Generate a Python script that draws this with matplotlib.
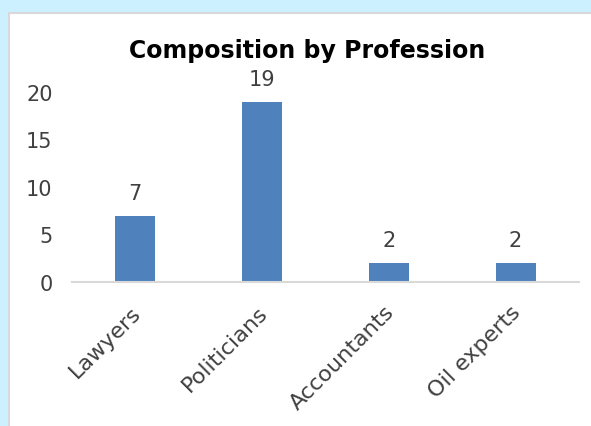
import matplotlib
matplotlib.use("Agg")
import matplotlib.pyplot as plt
from matplotlib.patches import Rectangle
from matplotlib.transforms import ScaledTranslation

categories = ["Lawyers", "Politicians", "Accountants", "Oil experts"]
counts = [7, 19, 2, 2]
yticks = [0, 5, 10, 15, 20]

W, H = 591, 427
fig = plt.figure(figsize=(W / 100, H / 100), dpi=100)
fig.patch.set_facecolor("#CCF0FF")

# white chart panel with thin grey border
panel = Rectangle((9 / W, -0.1), 1.2, 1.1 - 14 / H, transform=fig.transFigure,
                  facecolor="white", edgecolor="#D9D9D9", linewidth=1.5, zorder=-1)
fig.patches.append(panel)

font = "DejaVu Sans"
ax = fig.add_axes([72 / W, 1 - 283 / H, (579 - 72) / W, (283 - 93) / H])
ax.set_facecolor("none")

x = list(range(len(categories)))
ax.bar(x, counts, width=0.316, color="#4F81BD", zorder=2)
for xi, v in zip(x, counts):
    ax.annotate(str(v), (xi, v), xytext=(0, 9), textcoords="offset points",
                ha="center", va="bottom", fontsize=15, color="#404040", family=font)

ax.set_xlim(-0.5, len(categories) - 0.5)
ax.set_ylim(0, 20)
ax.set_yticks(yticks)
ax.set_yticklabels([str(t) for t in yticks], fontsize=15, color="#404040", family=font)
ax.set_xticks(x)
ax.set_xticklabels(categories, rotation=45, ha="right", va="top", rotation_mode="anchor",
                   fontsize=16, color="#404040", family=font)
ax.tick_params(axis="both", length=0)
ax.tick_params(axis="y", pad=14)
ax.tick_params(axis="x", pad=14)
shift = ScaledTranslation(-5 / 100, 0, fig.dpi_scale_trans)
for lab in ax.get_xticklabels():
    lab.set_transform(lab.get_transform() + shift)
for s in ["top", "right", "left"]:
    ax.spines[s].set_visible(False)
ax.spines["bottom"].set_color("#D9D9D9")
ax.spines["bottom"].set_linewidth(1.5)

fig.text(307 / W, 1 - 58 / H, "Composition by Profession", ha="center", va="baseline",
         fontsize=17, fontweight="bold", family=font, color="black")

fig.savefig("out.png", dpi=100, facecolor=fig.get_facecolor())
